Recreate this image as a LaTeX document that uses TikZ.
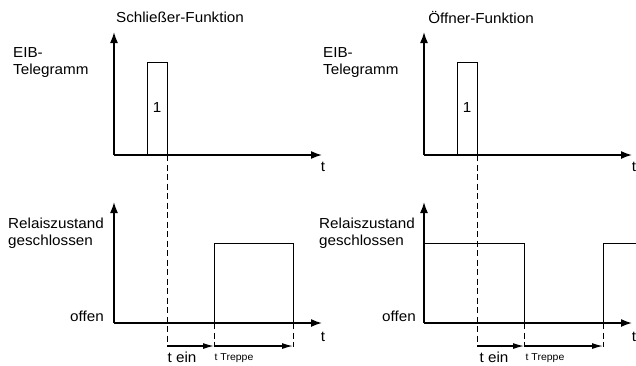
\documentclass[tikz,border=0pt]{standalone}
\usepackage{fontspec}
\setmainfont{Liberation Sans}[FakeStretch=1.05]
\usetikzlibrary{arrows.meta}
\begin{document}
\begin{tikzpicture}[x=1pt,y=-1pt,
  axis/.style={line width=1.6pt,-{Latex[length=11pt,width=8pt]}},
  sig/.style={line width=0.8pt},
  guide/.style={line width=0.8pt,dash pattern=on 6pt off 3.5pt},
  dimarrow/.style={line width=1.3pt,-{Latex[length=11pt,width=6pt]}},
  lbl/.style={font=\fontsize{14.5}{17}\selectfont,inner sep=0pt},
  small/.style={font=\fontsize{10}{11}\selectfont,inner sep=0pt}]
\useasboundingbox (0,0) rectangle (636,365);
% ---------- left: Schliesser ----------
\node[lbl] (ltitle) at (180,17) {Schließer-Funktion};
\node[lbl,anchor=west,align=left] (leib) at (13,63) {EIB-\\Telegramm};
\coordinate (LTo) at (114,155);
\coordinate (LTy) at (114,32);
\coordinate (LTx) at (322,155);
\draw[axis] (LTo) -- (LTy);
\draw[axis] (LTo) -- (LTx);
\node[lbl] (lt1) at (323,167) {t};
\coordinate (LP1) at (147,155);
\coordinate (LP2) at (147,62);
\coordinate (LP3) at (167,62);
\coordinate (LP4) at (167,155);
\draw[sig] (LP1) -- (LP2) -- (LP3) -- (LP4);
\node[lbl] (lone) at (157,108) {1};
\coordinate (LD1) at (167,347);
\draw[guide] (LP4) -- (LD1);
% bottom left
\node[lbl,anchor=west,align=left] (lrel) at (8,233) {Relaiszustand\\geschlossen};
\node[lbl,anchor=east] (loff) at (104,316) {offen};
\coordinate (LBo) at (114,323);
\coordinate (LBy) at (114,202);
\coordinate (LBx) at (322,323);
\draw[axis] (LBo) -- (LBy);
\draw[axis] (LBo) -- (LBx);
\node[lbl] (lt2) at (323,337) {t};
\coordinate (LS1) at (214,323);
\coordinate (LS2) at (214,243);
\coordinate (LS3) at (293,243);
\coordinate (LS4) at (293,323);
\draw[sig] (LS1) -- (LS2) -- (LS3) -- (LS4);
\coordinate (LE1) at (214,347);
\coordinate (LE2) at (293,347);
\draw[guide] (LS1) -- (LE1);
\draw[guide] (LS4) -- (LE2);
\coordinate (LA0) at (167,346);
\coordinate (LA1) at (214,346);
\coordinate (LA2) at (293,346);
\draw[dimarrow] (LA0) -- (LA1);
\draw[dimarrow] (LA1) -- (LA2);
\node[lbl] (ltein) at (182,357) {t ein};
\node[small] (lttr) at (234,358) {t Treppe};
% ---------- right: Oeffner ----------
\node[lbl] (rtitle) at (481,17) {Öffner-Funktion};
\node[lbl,anchor=west,align=left] (reib) at (323,63) {EIB-\\Telegramm};
\coordinate (RTo) at (424,155);
\coordinate (RTy) at (424,32);
\coordinate (RTx) at (632,155);
\draw[axis] (RTo) -- (RTy);
\draw[axis] (RTo) -- (RTx);
\node[lbl] (rt1) at (634,167) {t};
\coordinate (RP1) at (457,155);
\coordinate (RP2) at (457,62);
\coordinate (RP3) at (477,62);
\coordinate (RP4) at (477,155);
\draw[sig] (RP1) -- (RP2) -- (RP3) -- (RP4);
\node[lbl] (rone) at (467,108) {1};
\coordinate (RD1) at (477,347);
\draw[guide] (RP4) -- (RD1);
% bottom right
\node[lbl,anchor=west,align=left] (rrel) at (319,233) {Relaiszustand\\geschlossen};
\node[lbl,anchor=east] (roff) at (416,316) {offen};
\coordinate (RBo) at (424,323);
\coordinate (RBy) at (424,202);
\coordinate (RBx) at (632,323);
\coordinate (RS0) at (424,243);
\coordinate (RS1) at (524,243);
\coordinate (RS2) at (524,323);
\coordinate (RS3) at (603,323);
\coordinate (RS4) at (603,243);
\coordinate (RS5) at (636,243);
\draw[sig] (RS0) -- (RS1) -- (RS2);
\draw[sig] (RS3) -- (RS4) -- (RS5);
\draw[axis] (RBo) -- (RBy);
\draw[axis] (RBo) -- (RBx);
\node[lbl] (rt2) at (634,337) {t};
\coordinate (RE1) at (524,347);
\coordinate (RE2) at (603,347);
\draw[guide] (RS2) -- (RE1);
\draw[guide] (RS3) -- (RE2);
\coordinate (RA0) at (477,346);
\coordinate (RA1) at (524,346);
\coordinate (RA2) at (603,346);
\draw[dimarrow] (RA0) -- (RA1);
\draw[dimarrow] (RA1) -- (RA2);
\node[lbl] (rtein) at (494,357) {t ein};
\node[small] (rttr) at (545,358) {t Treppe};
\end{tikzpicture}
\end{document}
